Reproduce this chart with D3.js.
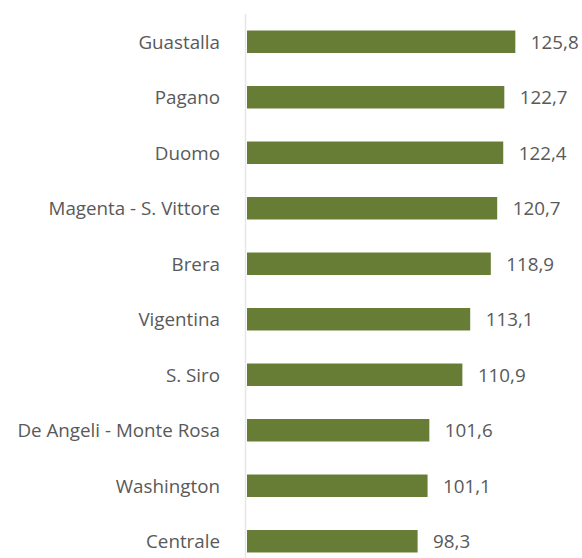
<!DOCTYPE html>
<html>
<head>
<meta charset="utf-8">
<script src="https://cdn.jsdelivr.net/npm/d3@7"></script>
<style>
  html, body { margin: 0; padding: 0; background: #fff; }
  svg text { font-family: "Open Sans", "Liberation Sans", sans-serif; fill: #595959; }
</style>
</head>
<body>
<svg id="chart" width="582" height="558"></svg>
<script>
// data, top to bottom
const zones = [
    "Guastalla",
    "Pagano",
    "Duomo",
    "Magenta - S. Vittore",
    "Brera",
    "Vigentina",
    "S. Siro",
    "De Angeli - Monte Rosa",
    "Washington",
    "Centrale"
];
const values = [125.8, 122.7, 122.4, 120.7, 118.9, 113.1, 110.9, 101.6, 101.1, 98.3];

const barColor = "#677c35";
const fontSize = "18.8px";

const svg = d3.select("svg#chart");

let margin = { top: 14, left: 246 };
let plotHeight = 555;

let xScale = d3.scaleLinear()
    .domain([50, 140])
    .range([margin.left, margin.left + 90 * 3.553]);

let yScale = d3.scaleBand()
    .domain(zones)
    .range([margin.top, margin.top + plotHeight])
    .paddingInner(0.595)
    .paddingOuter(0.2975);

const itFormat = d3.formatLocale({ decimal: ",", thousands: ".", grouping: [3], currency: ["€", ""] }).format(".1f");

// bars
svg.append("g")
    .selectAll("rect")
    .data(values)
    .enter()
    .append("rect")
    .attr("x", xScale(50) + 1)
    .attr("y", (d, i) => yScale(zones[i]))
    .attr("width", d => xScale(d) - xScale(50) - 1)
    .attr("height", yScale.bandwidth())
    .attr("fill", barColor);

// value labels
svg.append("g")
    .selectAll("text")
    .data(values)
    .enter()
    .append("text")
    .attr("x", d => xScale(d) + 15.5)
    .attr("y", (d, i) => yScale(zones[i]) + yScale.bandwidth() / 2)
    .attr("dy", "0.36em")
    .style("font-size", fontSize)
    .text(d => itFormat(d));

// category axis
let yAxis = d3.axisLeft(yScale).tickSize(0).tickPadding(26);
let axisG = svg.append("g")
    .attr("transform", "translate(" + margin.left + ",0)")
    .call(yAxis);
axisG.select(".domain").remove();
axisG.selectAll("text")
    .style("font-size", fontSize)
    .style("fill", "#595959")
    .attr("dy", "0.36em")
    .attr("font-family", null);

svg.append("line")
    .attr("x1", margin.left - 0.5)
    .attr("x2", margin.left - 0.5)
    .attr("y1", margin.top)
    .attr("y2", 558)
    .attr("stroke", "#e6e6e6")
    .attr("stroke-width", 1.5);
</script>
</body>
</html>
